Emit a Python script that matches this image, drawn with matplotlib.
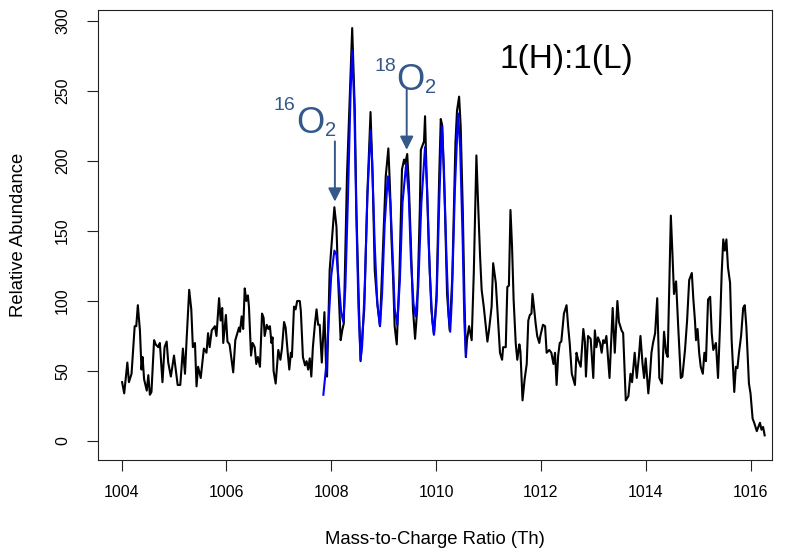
import matplotlib
matplotlib.use("Agg")
import matplotlib.pyplot as plt

# observed spectrum (black)
obs_mz = [1004.01, 1004.05, 1004.11, 1004.14, 1004.19, 1004.25, 1004.28, 1004.31, 1004.35, 1004.38,
          1004.40, 1004.43, 1004.48, 1004.51, 1004.54, 1004.57, 1004.62, 1004.65, 1004.70, 1004.73,
          1004.78, 1004.82, 1004.86, 1004.89, 1004.94, 1005.00, 1005.07, 1005.12, 1005.17, 1005.21,
          1005.24, 1005.29, 1005.33, 1005.36, 1005.40, 1005.43, 1005.46, 1005.51, 1005.57, 1005.62,
          1005.65, 1005.68, 1005.72, 1005.78, 1005.81, 1005.86, 1005.89, 1005.92, 1005.94, 1005.99,
          1006.02, 1006.06, 1006.13, 1006.17, 1006.24, 1006.26, 1006.29, 1006.32, 1006.35, 1006.38,
          1006.41, 1006.43, 1006.47, 1006.50, 1006.54, 1006.57, 1006.60, 1006.64, 1006.68, 1006.71,
          1006.73, 1006.77, 1006.80, 1006.83, 1006.86, 1006.88, 1006.90, 1006.94, 1006.99, 1007.03,
          1007.06, 1007.10, 1007.13, 1007.17, 1007.20, 1007.23, 1007.25, 1007.29, 1007.32, 1007.35,
          1007.40, 1007.42, 1007.46, 1007.50, 1007.53, 1007.56, 1007.59, 1007.62, 1007.65, 1007.69,
          1007.72, 1007.75, 1007.78, 1007.82, 1007.85, 1007.87, 1007.90, 1007.92, 1007.97, 1008.06,
          1008.10, 1008.13, 1008.18, 1008.21, 1008.24, 1008.30, 1008.40, 1008.45, 1008.48, 1008.53,
          1008.56, 1008.60, 1008.63, 1008.69, 1008.75, 1008.79, 1008.83, 1008.88, 1008.93, 1008.99,
          1009.04, 1009.09, 1009.12, 1009.15, 1009.18, 1009.21, 1009.25, 1009.30, 1009.35, 1009.39,
          1009.41, 1009.45, 1009.48, 1009.52, 1009.56, 1009.60, 1009.64, 1009.69, 1009.71, 1009.74,
          1009.77, 1009.79, 1009.82, 1009.86, 1009.91, 1009.96, 1010.01, 1010.06, 1010.09, 1010.12,
          1010.17, 1010.21, 1010.26, 1010.31, 1010.37, 1010.40, 1010.44, 1010.47, 1010.51, 1010.54,
          1010.57, 1010.59, 1010.63, 1010.68, 1010.72, 1010.77, 1010.80, 1010.84, 1010.87, 1010.91,
          1010.95, 1010.98, 1011.01, 1011.06, 1011.09, 1011.14, 1011.19, 1011.22, 1011.26, 1011.28,
          1011.33, 1011.36, 1011.39, 1011.42, 1011.45, 1011.48, 1011.52, 1011.55, 1011.59, 1011.61,
          1011.65, 1011.69, 1011.73, 1011.76, 1011.79, 1011.82, 1011.84, 1011.87, 1011.90, 1011.93,
          1011.97, 1011.99, 1012.04, 1012.08, 1012.11, 1012.16, 1012.20, 1012.24, 1012.27, 1012.30,
          1012.33, 1012.36, 1012.39, 1012.44, 1012.49, 1012.52, 1012.55, 1012.59, 1012.65, 1012.68,
          1012.71, 1012.76, 1012.81, 1012.84, 1012.86, 1012.90, 1012.95, 1013.00, 1013.03, 1013.06,
          1013.09, 1013.13, 1013.16, 1013.19, 1013.22, 1013.25, 1013.28, 1013.31, 1013.37, 1013.41,
          1013.46, 1013.49, 1013.54, 1013.57, 1013.62, 1013.67, 1013.71, 1013.74, 1013.79, 1013.83,
          1013.87, 1013.90, 1013.94, 1013.97, 1014.00, 1014.05, 1014.08, 1014.11, 1014.14, 1014.18,
          1014.22, 1014.26, 1014.31, 1014.35, 1014.39, 1014.42, 1014.48, 1014.51, 1014.54, 1014.58,
          1014.62, 1014.67, 1014.70, 1014.75, 1014.79, 1014.83, 1014.88, 1014.91, 1014.94, 1014.96,
          1014.99, 1015.02, 1015.05, 1015.09, 1015.12, 1015.15, 1015.19, 1015.23, 1015.26, 1015.29,
          1015.34, 1015.38, 1015.42, 1015.45, 1015.48, 1015.51, 1015.54, 1015.57, 1015.61, 1015.64,
          1015.69, 1015.72, 1015.75, 1015.78, 1015.82, 1015.86, 1015.89, 1015.92, 1015.97, 1016.00,
          1016.04, 1016.07, 1016.12, 1016.15, 1016.18, 1016.21, 1016.24, 1016.27]
obs_ab = [42, 34, 56, 42, 48, 82, 82, 97, 79, 51,
          60, 44, 36, 47, 33, 35, 72, 69, 67, 70,
          42, 67, 71, 56, 46, 61, 40, 40, 66, 48,
          72, 108, 94, 67, 70, 39, 53, 45, 66, 63,
          77, 67, 79, 82, 75, 102, 86, 95, 70, 90,
          71, 69, 49, 72, 81, 78, 89, 80, 109, 100,
          104, 96, 61, 70, 67, 55, 60, 53, 91, 88,
          75, 83, 80, 82, 70, 74, 50, 41, 65, 58,
          66, 85, 81, 63, 51, 63, 60, 96, 94, 100,
          100, 93, 60, 54, 57, 51, 59, 46, 67, 84,
          94, 83, 83, 56, 77, 92, 55, 46, 122, 167,
          153, 117, 72, 79, 84, 189, 295, 236, 165, 94,
          57, 79, 94, 177, 235, 189, 122, 98, 82, 141,
          189, 209, 182, 144, 117, 82, 69, 117, 194, 201,
          198, 205, 184, 141, 94, 73, 94, 165, 208, 211,
          214, 232, 189, 141, 94, 76, 105, 189, 230, 225,
          165, 105, 79, 117, 213, 236, 246, 225, 165, 105,
          60, 72, 82, 72, 120, 204, 172, 132, 108, 96,
          82, 71, 79, 96, 127, 113, 82, 63, 58, 67,
          67, 110, 111, 165, 139, 101, 70, 58, 69, 64,
          29, 44, 55, 86, 90, 91, 105, 95, 84, 75,
          70, 75, 83, 82, 63, 65, 63, 55, 63, 40,
          61, 70, 71, 91, 97, 82, 70, 48, 40, 63,
          58, 53, 80, 71, 46, 75, 73, 45, 79, 67,
          74, 70, 63, 72, 70, 75, 60, 45, 95, 63,
          100, 85, 79, 77, 29, 32, 48, 42, 63, 45,
          60, 75, 55, 45, 59, 34, 46, 63, 70, 77,
          102, 45, 41, 78, 63, 60, 161, 134, 105, 114,
          82, 45, 46, 65, 86, 115, 120, 101, 86, 72,
          80, 63, 53, 48, 63, 57, 101, 103, 77, 65,
          70, 45, 84, 120, 144, 136, 144, 124, 113, 72,
          35, 53, 52, 63, 75, 95, 97, 82, 41, 34,
          16, 13, 7, 10, 13, 8, 10, 4]

# fitted isotope envelope (blue)
fit_mz = [1007.85, 1007.90, 1007.95, 1008.00, 1008.06, 1008.10, 1008.14, 1008.19, 1008.23, 1008.27,
          1008.32, 1008.37, 1008.40, 1008.44, 1008.48, 1008.52, 1008.56, 1008.59, 1008.64, 1008.69,
          1008.75, 1008.78, 1008.83, 1008.88, 1008.93, 1008.97, 1009.02, 1009.08, 1009.13, 1009.18,
          1009.21, 1009.26, 1009.31, 1009.36, 1009.43, 1009.48, 1009.52, 1009.57, 1009.61, 1009.66,
          1009.72, 1009.79, 1009.83, 1009.88, 1009.93, 1009.96, 1010.01, 1010.06, 1010.11, 1010.15,
          1010.20, 1010.24, 1010.27, 1010.30, 1010.36, 1010.42, 1010.46, 1010.51, 1010.54, 1010.57]
fit_ab = [33, 52, 85, 118, 136, 133, 115, 92, 85, 110,
          175, 250, 279, 240, 160, 95, 58, 68, 110, 175,
          222, 200, 140, 98, 82, 105, 155, 189, 170, 125,
          95, 83, 115, 170, 198, 175, 130, 98, 89, 110,
          170, 210, 180, 120, 85, 76, 100, 170, 225, 195,
          130, 90, 78, 100, 180, 234, 210, 140, 85, 60]

x_ticks = [1004, 1006, 1008, 1010, 1012, 1014, 1016]
y_ticks = [0, 50, 100, 150, 200, 250, 300]

ann_color = "#34588A"

plt.rcParams['font.family'] = ['Liberation Sans', 'DejaVu Sans']

fig = plt.figure(figsize=(8, 5.55), dpi=100)
ax = fig.add_axes([0.1225, 0.1712, 0.8425, 0.8108])

ax.plot(obs_mz, obs_ab, color="black", linewidth=1.5, solid_joinstyle="round")
ax.plot(fit_mz, fit_ab, color="#0000FF", linewidth=1.5, solid_joinstyle="round")

ax.set_xlim(1003.55, 1016.41)
ax.set_ylim(-13.6, 307.9)
ax.set_xticks(x_ticks)
ax.set_yticks(y_ticks)
ax.set_xticklabels([str(t) for t in x_ticks], fontsize=11.5)
ax.set_yticklabels([str(t) for t in y_ticks], fontsize=11.5, rotation=90, va="center")
ax.tick_params(axis="both", direction="out", length=8, width=0.8, color="#222222")
ax.tick_params(axis="x", pad=10)
ax.tick_params(axis="y", pad=12)
for sp in ax.spines.values():
    sp.set_linewidth(0.8)
    sp.set_color("#222222")

ax.set_xlabel("Mass-to-Charge Ratio (Th)", fontsize=13.3, labelpad=22)
ax.set_ylabel("Relative Abundance", fontsize=13.3, labelpad=20)

# isotope labels
ax.text(1007.32, 236.5, "16", color=ann_color, fontsize=14, ha="right", va="baseline")
ax.text(1007.33, 220, "O", color=ann_color, fontsize=26, ha="left", va="baseline")
ax.text(1007.88, 218, "2", color=ann_color, fontsize=14.5, ha="left", va="baseline")
ax.annotate("", xy=(1008.07, 171), xytext=(1008.07, 214),
            arrowprops=dict(arrowstyle="-|>", color=ann_color, lw=1.4,
                            mutation_scale=20, shrinkA=0, shrinkB=0))

ax.text(1009.24, 264.5, "18", color=ann_color, fontsize=14, ha="right", va="baseline")
ax.text(1009.25, 250.5, "O", color=ann_color, fontsize=26, ha="left", va="baseline")
ax.text(1009.79, 248.5, "2", color=ann_color, fontsize=14.5, ha="left", va="baseline")
ax.annotate("", xy=(1009.44, 208), xytext=(1009.44, 252),
            arrowprops=dict(arrowstyle="-|>", color=ann_color, lw=1.4,
                            mutation_scale=20, shrinkA=0, shrinkB=0))

ax.text(1011.22, 266.5, "1(H):1(L)", color="black", fontsize=24, ha="left", va="baseline")

plt.savefig("out.png", dpi=100)
